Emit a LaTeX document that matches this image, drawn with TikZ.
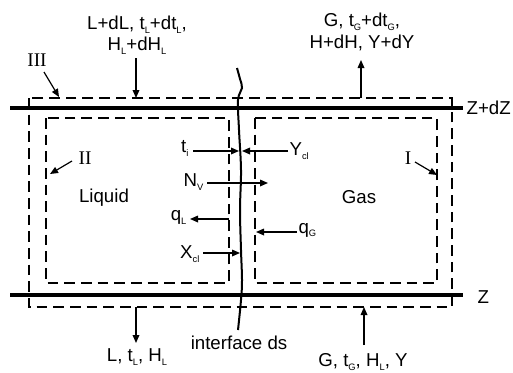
\documentclass[tikz,border=0pt]{standalone}
\usepackage{fontspec}
\setmainfont{Liberation Sans}
\newfontfamily\romfont{Liberation Serif}
\usetikzlibrary{arrows.meta, positioning}
\newcommand{\lo}[1]{\raisebox{-0.4ex}{\fontsize{7}{8}\selectfont #1}}

\begin{document}
\begin{tikzpicture}[x=0.75pt, y=-0.75pt,
        wall/.style={line width=2.3pt},
        zone/.style={line width=1.7pt, dash pattern=on 8pt off 4.5pt},
        flow/.style={line width=0.9pt, -{Triangle[length=6pt, width=5pt]}},
        lbl/.style={font=\fontsize{14}{16}\selectfont, inner sep=1pt, align=center},
        roman/.style={font=\romfont\fontsize{14.5}{16}\selectfont, inner sep=1pt}]
    \useasboundingbox (0,0) rectangle (513,372);

    % the two levels Z and Z+dZ
    \coordinate (zt0) at (10,108);
    \coordinate (zt1) at (463,108);
    \coordinate (zb0) at (10,295);
    \coordinate (zb1) at (463,295);
    \draw[wall] (zt0) to (zt1);
    \draw[wall] (zb0) to (zb1);
    \node[lbl, anchor=west] (zdz) at (465,108) {Z+dZ};
    \node[lbl, anchor=west] (z) at (476,297) {Z};

    % control volumes I, II, III
    \draw[zone] (29,98) rectangle (452,307);
    \draw[zone] (46,118) rectangle (229,283);
    \draw[zone] (255,118) rectangle (437,283);

    % interface
    \draw[line width=1.5pt] plot[smooth, tension=0.6] coordinates {(237,68) (240,79) (242,88)
        (238,100) (239,130) (241,170) (240,210) (241,250) (242,280) (241,300) (238,330)};
    \node[lbl] (ds) at (239,343) {interface ds};

    \node[lbl] (liq) at (104,198) {Liquid};
    \node[lbl] (gas) at (359,197) {Gas};

    \node[roman] (III) at (37,60) {III};
    \node[roman] (II) at (85,158) {II};
    \node[roman] (I) at (408,158) {I};
    \coordinate (IIIe) at (59,97);
    \coordinate (IIe) at (50,174);
    \coordinate (Ie) at (437,175);
    \draw[flow] (44,72) to (IIIe);
    \draw[flow] (72,161) to (IIe);
    \draw[flow] (415,162) to (Ie);

    % streams in and out
    \node[lbl] (lin) at (137,35) {L+dL, t\lo{L}+dt\lo{L},\\H\lo{L}+dH\lo{L}};
    \node[lbl] (gout) at (362,32) {G, t\lo{G}+dt\lo{G},\\H+dH, Y+dY};
    \node[lbl] (lout) at (137,357) {L, t\lo{L}, H\lo{L}};
    \node[lbl] (gin) at (363,362) {G, t\lo{G}, H\lo{L}, Y};
    \coordinate (lin0) at (136,58);
    \coordinate (lin1) at (136,98);
    \coordinate (gout0) at (361,98);
    \coordinate (gout1) at (361,60);
    \coordinate (lout0) at (136,307);
    \coordinate (lout1) at (136,343);
    \coordinate (gin0) at (364,345);
    \coordinate (gin1) at (364,307);
    \draw[flow] (lin0) to (lin1);
    \draw[flow] (gout0) to (gout1);
    \draw[flow] (lout0) to (lout1);
    \draw[flow] (gin0) to (gin1);

    % fluxes at the interface
    \node[lbl, anchor=east] (ti) at (190,148) {t\lo{i}};
    \node[lbl, anchor=west] (ycl) at (288,151) {Y\lo{cl}};
    \node[lbl, anchor=east] (nv) at (205,182) {N\lo{V}};
    \node[lbl, anchor=east] (ql) at (188,217) {q\lo{L}};
    \node[lbl, anchor=west] (qg) at (297,230) {q\lo{G}};
    \node[lbl, anchor=east] (xcl) at (201,254) {X\lo{cl}};
    \draw[flow] (193,151) to (239,151);
    \draw[flow] (ycl.west |- 0,151) to (242,151);
    \draw[flow] (207,183) to (268,183);
    \draw[flow] (229,219) to (190,219);
    \draw[flow] (qg.west |- 0,232) to (256,232);
    \draw[flow] (203,253) to (240,253);
\end{tikzpicture}
\end{document}
